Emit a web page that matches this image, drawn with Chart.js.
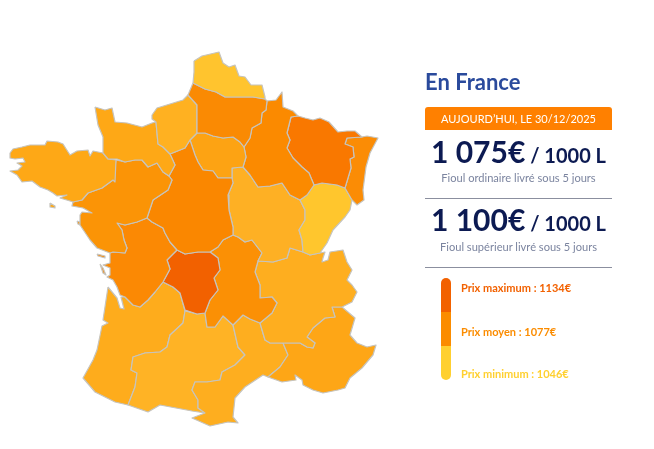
<!DOCTYPE html>
<html lang="fr"><head><meta charset="utf-8">
<script src="https://cdn.jsdelivr.net/npm/chart.js@4/dist/chart.umd.min.js"></script>
<style>
html,body{margin:0;padding:0;background:#fff;overflow:hidden}
#wrap{position:relative;width:654px;height:449px;font-family:Lato,"Open Sans",sans-serif}
canvas{position:absolute;left:0;top:0}
.t{position:absolute;white-space:nowrap}
.c{left:425px;width:187px;text-align:center}
</style></head><body>
<div id="wrap"><canvas id="map" width="654" height="449"></canvas>
<div class="t" id="title" style="left:425px;top:68px;font-size:22px;font-weight:700;color:#2a4a9c;line-height:28px"></div>
<div class="t c" id="banner" style="top:107px;height:23px;line-height:23px;background:#ff8000;border-radius:3px 3px 0 0;color:#fff;font-size:11px"></div>
<div class="t c" style="top:131px;line-height:40px;color:#0c1a52;font-weight:700"><span id="p1" style="font-size:30px"></span><span id="u1" style="font-size:20px"></span></div>
<div class="t c" id="s1" style="top:171px;line-height:14px;font-size:11.1px;color:#7b849f"></div>
<div style="position:absolute;left:425px;top:198px;width:187px;height:1px;background:#8b8f9f"></div>
<div class="t c" style="top:199px;line-height:40px;color:#0c1a52;font-weight:700"><span id="p2" style="font-size:30px"></span><span id="u2" style="font-size:20px"></span></div>
<div class="t c" id="s2" style="top:240px;line-height:14px;font-size:11.1px;color:#7b849f"></div>
<div style="position:absolute;left:425px;top:267px;width:187px;height:1px;background:#8b8f9f"></div>
<div style="position:absolute;left:441px;top:278px;width:10px;height:102px;border-radius:5px;overflow:hidden">
<div style="height:34px;background:#f26100"></div><div style="height:34px;background:#fb8c00"></div><div style="height:34px;background:#ffd030"></div></div>
<div class="t" id="l1" style="left:461px;top:281px;line-height:14px;font-size:11px;font-weight:700;color:#f26100"></div>
<div class="t" id="l2" style="left:461px;top:325px;line-height:14px;font-size:11px;font-weight:700;color:#fb8c00"></div>
<div class="t" id="l3" style="left:461px;top:367px;line-height:14px;font-size:11px;font-weight:700;color:#ffd030"></div>
</div>
<script>
// Region outlines, in map units
const nordPasDeCalais=[[194,61],[202,56],[219,52],[223,63],[229,67],[235,65],[239,76],[245,77],[251,85],[262,85],[265,97],[265,99],[253,97],[245,97],[235,97],[225,97],[216,92],[205,89],[193,83],[194,72]];
const picardie=[[193,83],[205,89],[216,92],[225,97],[235,97],[245,97],[253,97],[265,99],[267,101],[266,110],[262,113],[261,123],[252,128],[250,138],[244,147],[240,142],[233,137],[223,138],[213,136],[205,133],[197,133],[197,105],[188,95]];
const hauteNormandie=[[152,115],[157,108],[170,104],[183,100],[188,95],[197,105],[197,133],[190,140],[185,148],[175,152],[170,154],[163,147],[158,144],[156,122],[152,119]];
const basseNormandie=[[95,107],[105,110],[112,108],[115,122],[127,123],[142,127],[152,123],[156,122],[158,144],[163,147],[170,154],[175,165],[169,176],[163,172],[157,163],[148,167],[142,160],[135,160],[125,162],[117,159],[108,159],[103,153],[103,137],[98,125]];
const bretagne=[[10,153],[13,149],[22,147],[30,145],[37,145],[45,145],[47,141],[58,142],[63,144],[70,155],[77,151],[88,150],[90,156],[93,151],[103,153],[108,159],[116,160],[115,182],[113,180],[102,188],[88,193],[82,200],[73,202],[70,201],[60,198],[67,195],[57,196],[53,193],[48,190],[40,187],[32,181],[22,182],[17,175],[10,171],[18,170],[22,166],[17,163],[25,162],[23,158],[15,159],[10,158]];
const paysDeLaLoire=[[116,160],[125,162],[135,160],[142,160],[148,167],[157,163],[163,172],[169,176],[172,180],[168,190],[153,200],[147,218],[137,222],[125,225],[117,223],[122,230],[124,240],[127,248],[125,253],[113,252],[110,253],[97,248],[90,240],[88,237],[80,225],[80,215],[82,212],[92,213],[83,208],[72,206],[73,202],[82,200],[88,193],[102,188],[113,180]];
const centre=[[170,154],[175,152],[185,148],[190,140],[195,155],[198,162],[203,170],[213,171],[218,178],[232,178],[233,183],[228,195],[229,210],[233,227],[233,235],[223,240],[218,247],[210,252],[198,252],[185,254],[177,250],[170,242],[165,233],[163,228],[152,222],[147,218],[153,200],[168,190],[172,180],[169,176],[175,165]];
const ileDeFrance=[[190,140],[197,133],[205,133],[213,136],[223,138],[233,137],[240,142],[244,147],[246,157],[243,167],[232,168],[232,178],[218,178],[213,171],[203,170],[198,162],[195,155]];
const champagneArdenne=[[267,101],[276,100],[282,92],[283,107],[293,111],[298,116],[291,117],[287,133],[290,140],[287,148],[293,158],[302,167],[309,173],[314,185],[307,195],[300,200],[290,195],[282,183],[270,186],[258,187],[250,175],[243,167],[246,157],[244,147],[250,138],[252,128],[261,123],[262,113],[266,110]];
const lorraine=[[291,117],[298,116],[305,118],[313,120],[320,118],[329,122],[338,132],[347,131],[355,131],[362,137],[347,138],[345,144],[353,147],[354,157],[350,159],[351,168],[345,188],[337,185],[322,183],[314,185],[309,173],[302,167],[293,158],[287,148],[290,140],[287,133]];
const alsace=[[362,137],[367,136],[378,138],[370,153],[366,167],[363,190],[364,200],[357,205],[352,200],[345,188],[351,168],[350,159],[354,157],[353,147],[345,144],[347,138]];
const francheComte=[[314,185],[322,183],[337,185],[345,188],[352,200],[350,210],[345,217],[333,230],[327,243],[320,253],[310,255],[303,252],[302,240],[299,230],[305,220],[305,210],[300,200],[307,195]];
const bourgogne=[[232,168],[243,167],[250,175],[258,187],[270,186],[282,183],[290,195],[300,200],[305,210],[305,220],[299,230],[302,240],[303,252],[290,248],[287,258],[273,262],[258,261],[262,253],[252,240],[245,242],[238,237],[233,235],[233,227],[229,210],[228,195],[233,183],[232,178]];
const poitouCharentes=[[117,223],[125,225],[137,222],[147,218],[152,222],[163,228],[165,233],[170,242],[177,250],[167,260],[170,269],[163,282],[155,292],[148,300],[140,307],[133,305],[125,297],[120,295],[117,287],[113,280],[107,277],[110,275],[110,268],[103,265],[110,263],[110,253],[113,252],[125,253],[127,248],[124,240],[122,230]];
const limousin=[[177,250],[185,254],[198,252],[210,252],[218,258],[220,270],[214,278],[218,290],[210,300],[205,313],[197,314],[185,310],[182,300],[180,293],[173,287],[163,282],[170,269],[167,260]];
const auvergne=[[210,252],[218,247],[223,240],[233,235],[238,237],[245,242],[252,240],[262,253],[258,261],[255,272],[260,285],[260,298],[272,297],[277,303],[272,313],[260,323],[250,319],[243,315],[233,325],[223,316],[215,327],[207,327],[205,313],[210,300],[218,290],[214,278],[220,270],[218,258]];
const rhoneAlpes=[[258,261],[273,262],[287,258],[290,248],[303,252],[310,255],[320,253],[325,252],[323,258],[322,262],[328,260],[330,252],[343,250],[347,262],[352,270],[347,280],[352,285],[357,292],[352,302],[342,307],[332,307],[335,317],[325,318],[313,328],[307,337],[315,343],[313,348],[307,347],[300,343],[285,343],[278,343],[270,343],[265,340],[260,323],[272,313],[277,303],[272,297],[260,298],[260,285],[255,272]];
const paca=[[285,343],[300,343],[307,347],[313,348],[315,343],[307,337],[313,328],[325,318],[335,317],[332,307],[342,307],[355,318],[350,335],[357,343],[367,347],[376,345],[373,355],[362,368],[350,378],[345,388],[338,390],[323,393],[313,390],[303,385],[302,380],[295,375],[296,380],[282,382],[268,377],[280,367],[288,355],[283,343]];
const languedocRoussillon=[[243,315],[250,319],[260,323],[265,340],[270,343],[283,343],[288,355],[280,367],[268,377],[263,375],[245,387],[235,398],[233,417],[238,423],[228,422],[210,426],[192,418],[205,413],[198,408],[198,400],[192,390],[195,382],[207,382],[220,380],[222,372],[235,365],[245,355],[238,347],[233,325]];
const midiPyrenees=[[185,311],[197,314],[205,313],[207,327],[215,327],[223,316],[233,325],[238,347],[245,355],[235,365],[222,372],[220,380],[207,382],[195,382],[192,390],[198,400],[198,408],[205,413],[192,411],[160,405],[148,412],[128,405],[135,387],[137,373],[131,370],[133,357],[145,353],[160,352],[167,347],[170,335],[183,323]];
const aquitaine=[[108,287],[117,298],[120,308],[124,309],[121,297],[125,297],[133,305],[140,307],[148,300],[155,292],[163,282],[173,287],[180,293],[182,300],[185,311],[183,323],[170,335],[167,347],[160,352],[145,353],[133,357],[131,370],[137,373],[135,387],[128,405],[115,402],[95,392],[83,378],[93,360],[97,350],[102,326],[108,323],[103,320]];
const enclaveValreas=[[290,338],[293,336],[295,339],[292,341]];
const belleIle=[[50,203],[55,206],[55,208],[50,207]];
const noirmoutier=[[77,221],[80,222],[80,225],[78,224]];
const ileDeRe=[[97,254],[105,256],[105,258],[98,256]];
const oleron=[[100,264],[103,268],[106,275],[103,273]];

const regions=[nordPasDeCalais,picardie,hauteNormandie,basseNormandie,bretagne,paysDeLaLoire,centre,ileDeFrance,champagneArdenne,lorraine,alsace,francheComte,bourgogne,poitouCharentes,limousin,auvergne,rhoneAlpes,paca,languedocRoussillon,midiPyrenees,aquitaine,enclaveValreas,belleIle,noirmoutier,ileDeRe,oleron];
const regionColors=['#ffc42e','#fa8a03','#ffb121','#fea816','#fea816','#fb9406','#fa8700','#fda313','#fb8a00','#f97800','#fb8c05','#ffc62d','#feb024','#fb8904','#f26100','#fb9005','#feae1f','#fea616','#feae1f','#ffb325','#feac1c','#fea616','#fea816','#fb9406','#fb8904','#fb8904'];

const titleText='En France';
const bannerText='AUJOURD’HUI, LE 30/12/2025';
const prices=['1 075€','1 100€'];
const unitText=' / 1000 L';
const subTexts=['Fioul ordinaire livré sous 5 jours','Fioul supérieur livré sous 5 jours'];
const legendTexts=['Prix maximum : 1134€','Prix moyen : 1077€','Prix minimum : 1046€'];

const set=(id,v)=>document.getElementById(id).textContent=v;
set('title',titleText);set('banner',bannerText);set('p1',prices[0]);set('p2',prices[1]);
set('u1',unitText);set('u2',unitText);set('s1',subTexts[0]);set('s2',subTexts[1]);
set('l1',legendTexts[0]);set('l2',legendTexts[1]);set('l3',legendTexts[2]);

const polygonFill={id:'polygonFill',beforeDatasetDraw(chart,args){
  const pts=chart.getDatasetMeta(args.index).data,ctx=chart.ctx;
  ctx.save();ctx.beginPath();
  pts.forEach((p,i)=>i?ctx.lineTo(p.x,p.y):ctx.moveTo(p.x,p.y));
  ctx.closePath();ctx.fillStyle=chart.data.datasets[args.index].backgroundColor;ctx.fill();ctx.restore();
}};
new Chart(document.getElementById('map'),{
  type:'scatter',
  data:{datasets:regions.map((r,i)=>({
    data:[...r,r[0]].map(([x,y])=>({x,y})),
    showLine:true,fill:false,tension:0,pointRadius:0,pointHoverRadius:0,
    borderColor:'#c6c4be',borderWidth:1.2,borderJoinStyle:'round',backgroundColor:regionColors[i]
  }))},
  options:{responsive:false,animation:false,events:[],layout:{padding:0},clip:false,
    plugins:{legend:{display:false},tooltip:{enabled:false}},
    scales:{x:{type:'linear',min:0,max:654,display:false},y:{type:'linear',min:0,max:449,reverse:true,display:false}}},
  plugins:[polygonFill]
});
</script></body></html>
